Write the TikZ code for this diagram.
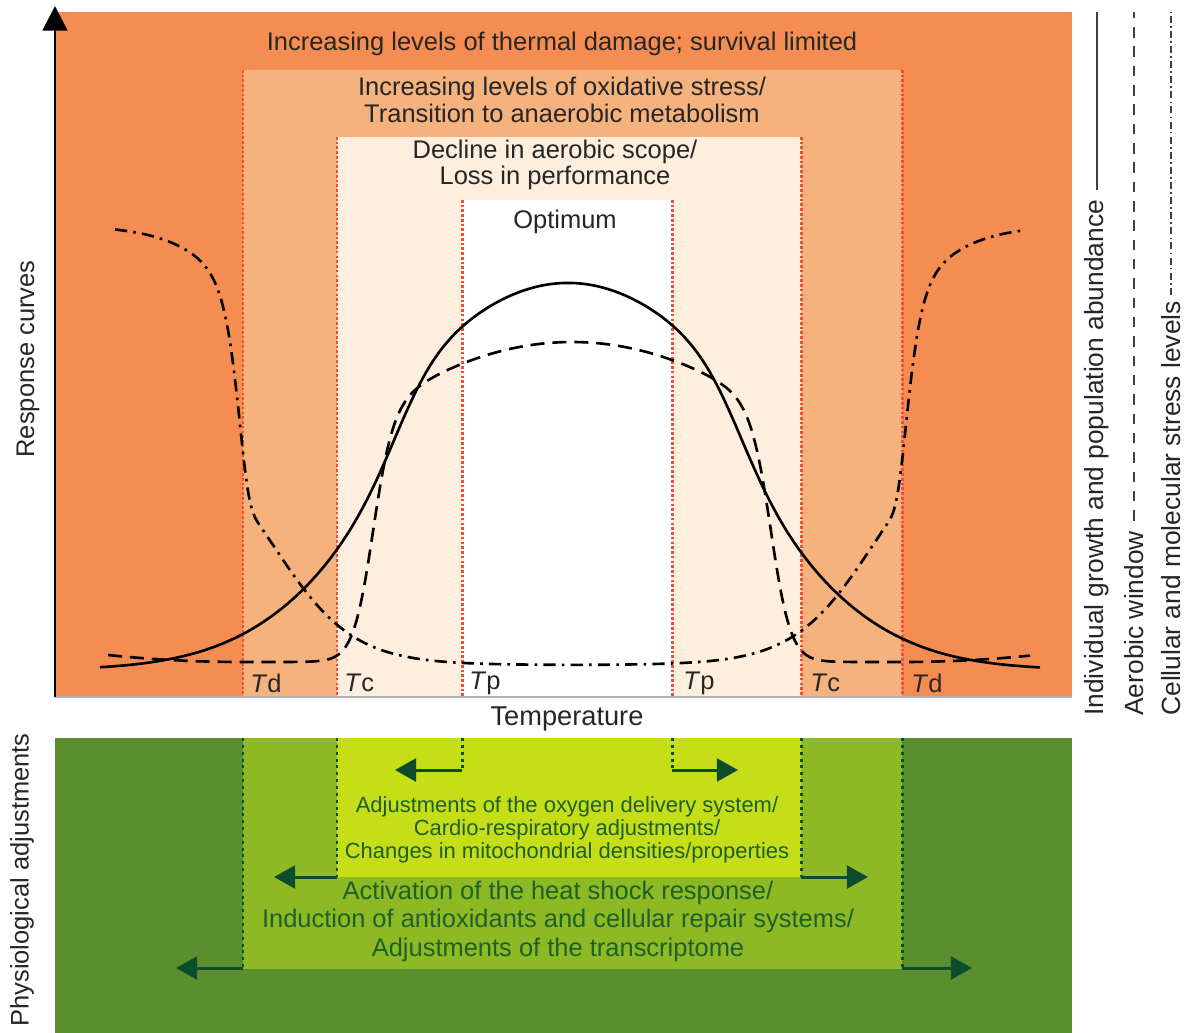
\documentclass[tikz,border=0pt]{standalone}
\usepackage{fontspec}
\setmainfont{Liberation Sans}
\usetikzlibrary{arrows.meta}

\definecolor{hot}{RGB}{245,140,82}
\definecolor{warm}{RGB}{246,178,125}
\definecolor{mild}{RGB}{253,238,222}
\definecolor{edge}{RGB}{238,78,58}
\definecolor{moss}{RGB}{91,143,46}
\definecolor{grass}{RGB}{141,186,36}
\definecolor{lime}{RGB}{197,222,23}
\definecolor{pine}{RGB}{14,77,44}
\definecolor{leaf}{RGB}{31,95,42}

\begin{document}
\begin{tikzpicture}[x=0.02cm, y=-0.02cm, >={Triangle[length=12pt,width=13pt]},
	tline/.style={edge, line width=1.7pt, dash pattern=on 1.5pt off 1.2pt},
	txt/.style={font=\fontsize{14.5}{15}\selectfont, text=black!85, align=center},
	gtxt/.style={txt, text=leaf},
	tlab/.style={txt, anchor=west, inner sep=0pt},
	legtxt/.style={txt, font=\fontsize{15}{16}\selectfont, rotate=90, anchor=west, inner sep=0pt},
	adj/.style={draw=pine, line width=1.7pt, dash pattern=on 1.7pt off 2.2pt},
	push/.style={->, draw=pine, fill=pine, line width=1.7pt},
	growth/.style={line width=1.5pt},
	window/.style={line width=1.5pt, dash pattern=on 8pt off 4.5pt},
	stress/.style={line width=1.5pt, dash pattern=on 7pt off 3.5pt on 1.5pt off 3.5pt},
	legline/.style={black!75, line width=1.1pt}]
	\useasboundingbox (0,0) rectangle (1192,1033);

	% response zones
	\fill[hot] (55,12) rectangle (1072,697);
	\fill[warm] (243,70) rectangle (902,697);
	\fill[mild] (337,137) rectangle (801,697);
	\fill[white] (462,200) rectangle (672,697);
	\foreach \x/\y in {243/70, 337/137, 462/200, 672/200, 801/137, 902/70}
		\draw[tline] (\x,\y) -- (\x,697);
	\draw[black!30, line width=0.8pt] (55,697) -- (1072,697);
	\draw[line width=1.7pt, -{Triangle[length=14pt,width=14pt]}] (55,697) -- (55,6);

	\path
		(562,44) node[txt] (thermal) {Increasing levels of thermal damage; survival limited}
		(562,100) node[txt] (oxid) {Increasing levels of oxidative stress/\\Transition to anaerobic metabolism}
		(555,165) node[txt] (aerob) {Decline in aerobic scope/\\Loss in performance}
		(565,222) node[txt] (optim) {Optimum}
		(250,683) node[tlab] (Td1) {\textit{T}d}
		(344,683) node[tlab] (Tc1) {\textit{T}c}
		(469,683) node[tlab] (Tp1) {\textit{T}p}
		(683,683) node[tlab] (Tp2) {\textit{T}p}
		(810,683) node[tlab] (Tc2) {\textit{T}c}
		(911,683) node[tlab] (Td2) {\textit{T}d}
		(567,719) node[txt, font=\fontsize{15.5}{16}\selectfont] (temp) {Temperature}
		(28,359) node[txt, rotate=90] (resp) {Response curves}
		(22,880) node[txt, rotate=90] (phys) {Physiological adjustments}
	;

	% response curves
	\draw[growth] plot[domain=100:1040, samples=180, smooth]
		(\x, {670-387*exp(-((\x-568)/100)^2*(0.1+0.125/(1+exp((167-abs(\x-568))/22))))});
	\draw[window] plot[domain=108:1030, samples=220, smooth]
		(\x, {662-7*(max(0,abs(\x-572)-330)/134)^2-(320-18*((\x-572)/100)^2)/(1+exp(min((abs(\x-572)-200)/10,9)))});
	\draw[stress] plot[domain=115:1023, samples=240, smooth]
		(\x, {665-240/(1+exp((300-abs(\x-573))/40))-200*exp(-exp(min((333-abs(\x-573))/9,2.2)))});

	% legend
	\path
		(1097,716) node[legtxt] (leg1) {Individual growth and population abundance}
		(1134,716) node[legtxt] (leg2) {Aerobic window}
		(1171,716) node[legtxt] (leg3) {Cellular and molecular stress levels}
		(0,12) coordinate (top)
	;
	\draw[legline] ([shift={(0,-10)}]leg1.east) -- (leg1.east |- top);
	\draw[legline, dash pattern=on 6pt off 5pt] ([shift={(0,-10)}]leg2.east) -- (leg2.east |- top);
	\draw[legline, dash pattern=on 4pt off 1.8pt on 1pt off 1.8pt] ([shift={(0,-6)}]leg3.east) -- (leg3.east |- top);

	% adjustment zones
	\fill[moss] (55,738) rectangle (1072,1033);
	\fill[grass] (243,738) rectangle (902,969);
	\fill[lime] (337,738) rectangle (801,877);
	\foreach \x/\y/\e [count=\i] in {462/770/395, 672/770/738, 337/877/274, 801/877/868, 243/968/176, 902/968/972} {
		\draw[adj] (\x,738) coordinate (s\i) -- (\x,\y) coordinate (k\i);
		\draw[push] (k\i) -- (\e,\y) coordinate (e\i);
	}

	\path
		(567,830) node[gtxt, font=\fontsize{12.5}{13}\selectfont] (oxygen) {Adjustments of the oxygen delivery system/\\Cardio-respiratory adjustments/\\Changes in mitochondrial densities/properties}
		(558,921) node[gtxt, font=\fontsize{14.5}{16.2}\selectfont] (shock) {Activation of the heat shock response/\\Induction of antioxidants and cellular repair systems/\\Adjustments of the transcriptome}
	;
\end{tikzpicture}
\end{document}
